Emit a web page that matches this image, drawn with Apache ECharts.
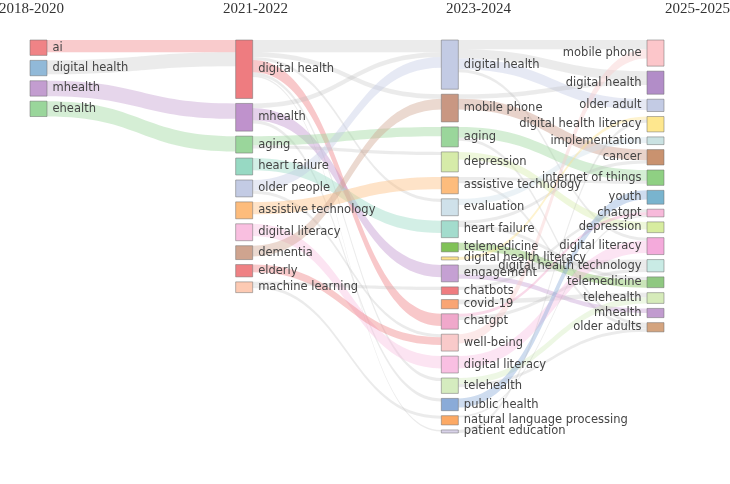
<!DOCTYPE html>
<html>
<head>
<meta charset="utf-8">
<script src="https://cdn.jsdelivr.net/npm/echarts@6/dist/echarts.min.js"></script>
<style>
  html, body { margin: 0; padding: 0; background: #fff; }
  #main { width: 730px; height: 484px; }
</style>
</head>
<body>
<div id="main"></div>
<script>
var periods = ['2018-2020', '2021-2022', '2023-2024', '2025-2025'];

// keywords per period, top to bottom
var names1 = ['ai', 'digital health', 'mhealth', 'ehealth'];
var sizes1 = [5, 5, 5, 5];

var names2 = ['digital health', 'mhealth', 'aging', 'heart failure', 'older people',
  'assistive technology', 'digital literacy', 'dementia', 'elderly', 'machine learning'];
var sizes2 = [19, 9, 5.5, 5.5, 5.5, 5.5, 5.5, 4.5, 4, 3.5];

var names3 = ['digital health', 'mobile phone', 'aging', 'depression', 'assistive technology',
  'evaluation', 'heart failure', 'telemedicine', 'digital health literacy', 'engagement',
  'chatbots', 'covid-19', 'chatgpt', 'well-being', 'digital literacy', 'telehealth',
  'public health', 'natural language processing', 'patient education'];
var sizes3 = [16, 9, 6.5, 6.5, 5.5, 5.5, 5.5, 3, 1, 5.5, 2.5, 3, 5, 5.5, 5.5, 5, 4, 3, 1];

var names4 = ['mobile phone', 'digital health', 'older adult', 'digital health literacy',
  'implementation', 'cancer', 'internet of things', 'youth', 'chatgpt', 'depression',
  'digital literacy', 'digital health technology', 'telemedicine', 'telehealth',
  'mhealth', 'older adults'];
var sizes4 = [8.5, 7.5, 4, 5, 2.5, 5, 5, 4.5, 2.5, 3.5, 5.5, 4, 3.5, 3.5, 3, 3];

// links between neighbouring periods: [source, target, value, tinted]
var flows12 = [
  ['ai', 'digital health', 4, true],
  ['digital health', 'digital health', 4.5, false],
  ['mhealth', 'mhealth', 5, true],
  ['ehealth', 'aging', 5, true]
];
var flows23 = [
  ['digital health', 'digital health', 4, false],
  ['digital health', 'chatgpt', 4, true],
  ['digital health', 'mobile phone', 1.5, false],
  ['digital health', 'evaluation', 1, false],
  ['digital health', 'telehealth', 1, false],
  ['digital health', 'patient education', 0.5, false],
  ['mhealth', 'engagement', 4, true],
  ['mhealth', 'digital health', 1.5, false],
  ['mhealth', 'public health', 1, false],
  ['aging', 'aging', 3, true],
  ['aging', 'depression', 1, false],
  ['heart failure', 'heart failure', 4, true],
  ['older people', 'digital health', 3.5, true],
  ['older people', 'well-being', 1, false],
  ['assistive technology', 'assistive technology', 4, true],
  ['digital literacy', 'digital literacy', 4, true],
  ['dementia', 'mobile phone', 3.5, true],
  ['elderly', 'well-being', 2.5, true],
  ['machine learning', 'natural language processing', 1, false],
  ['machine learning', 'chatbots', 1, false]
];
var flows34 = [
  ['digital health', 'mobile phone', 3, false],
  ['digital health', 'digital health', 3, false],
  ['digital health', 'older adult', 3.5, true],
  ['digital health', 'digital literacy', 1, false],
  ['mobile phone', 'cancer', 3.5, true],
  ['mobile phone', 'digital health', 1.5, false],
  ['aging', 'internet of things', 3.5, true],
  ['aging', 'older adults', 1, false],
  ['depression', 'depression', 2.5, true],
  ['assistive technology', 'internet of things', 1, false],
  ['assistive technology', 'older adults', 1, false],
  ['evaluation', 'implementation', 2, true],
  ['heart failure', 'telemedicine', 1, false],
  ['heart failure', 'cancer', 1, false],
  ['telemedicine', 'telemedicine', 2.5, true],
  ['digital health literacy', 'digital health literacy', 1, true],
  ['engagement', 'digital health technology', 3, false],
  ['engagement', 'mhealth', 1.5, true],
  ['chatbots', 'chatgpt', 1, false],
  ['covid-19', 'telehealth', 1.5, false],
  ['chatgpt', 'chatgpt', 1, true],
  ['chatgpt', 'digital health technology', 1, false],
  ['well-being', 'mobile phone', 3, true],
  ['digital literacy', 'digital literacy', 4, true],
  ['telehealth', 'telehealth', 2, true],
  ['telehealth', 'older adults', 1, false],
  ['public health', 'youth', 3, true],
  ['natural language processing', 'chatgpt', 0.5, false],
  ['patient education', 'digital health literacy', 1, false]
];

var colors1 = ['#f08386', '#91b9d8', '#c39dd0', '#9ad69b'];
var colors2 = ['#ee7c80', '#bf92cc', '#9ad69b', '#97d9c3', '#c3cbe4', '#fdbc7c', '#f9bfe0',
  '#cfa48f', '#ef8184', '#fdcab3'];
var colors3 = ['#c3cbe4', '#c99782', '#9ad69b', '#d6eba9', '#fdbc7c', '#cfe1ea', '#a3dccd',
  '#80c257', '#fde28c', '#c5a0d3', '#ef7c80', '#f9a574', '#f0a8cb', '#f9caca', '#f9bfe2',
  '#d5ecbf', '#8aabd8', '#fca964', '#d8d2e8'];
var colors4 = ['#fcc6ca', '#b28dc8', '#c3cbe4', '#fee78e', '#cae2e2', '#c9926f', '#8fd083',
  '#79b4ce', '#f7b9da', '#d7ec9f', '#f4aadb', '#c9ebe5', '#8fc881', '#d6ebba', '#c19bcf',
  '#d4a47f'];

var myChart = echarts.init(document.getElementById('main'));

// 节点: 名字后加 |列号 保证唯一
var nodeData = [];
var columns = [[names1, sizes1, colors1], [names2, sizes2, colors2],
  [names3, sizes3, colors3], [names4, sizes4, colors4]];
columns.forEach(function (col, depth) {
  col[0].forEach(function (name, i) {
    nodeData.push({
      name: name + '|' + (depth + 1),
      value: col[1][i],
      depth: depth,
      itemStyle: { color: col[2][i] },
      label: depth === 3 ? { position: 'left' } : { position: 'right' }
    });
  });
});

var linkData = [];
[flows12, flows23, flows34].forEach(function (flows, k) {
  flows.forEach(function (f) {
    linkData.push({
      source: f[0] + '|' + (k + 1),
      target: f[1] + '|' + (k + 2),
      value: f[2],
      lineStyle: f[3] ? { color: 'source', opacity: 0.42 } : { color: '#b8b8b8', opacity: 0.28 }
    });
  });
});

var titleStyle = { fontFamily: 'Liberation Serif', fontSize: 15, fontWeight: 'normal', color: '#333' };

var option = {
  backgroundColor: '#fff',
  animation: false,
  title: [
    { text: periods[0], left: -1, top: 2, padding: 0, textStyle: titleStyle },
    { text: periods[1], left: 223, top: 2, padding: 0, textStyle: titleStyle },
    { text: periods[2], left: 446, top: 2, padding: 0, textStyle: titleStyle },
    { text: periods[3], right: 0, top: 2, padding: 0, textStyle: titleStyle }
  ],
  series: [{
    type: 'sankey',
    left: 30,
    right: 66,
    top: 40,
    bottom: 51,
    nodeWidth: 17,
    nodeGap: 5,
    layoutIterations: 0,
    draggable: false,
    emphasis: { disabled: true },
    data: nodeData,
    links: linkData,
    itemStyle: { borderColor: 'rgba(110,110,110,0.5)', borderWidth: 1 },
    lineStyle: { curveness: 0.5 },
    label: {
      fontFamily: 'DejaVu Sans',
      fontSize: 11.5,
      color: '#444',
      distance: 5,
      formatter: function (p) { return p.name.split('|')[0]; }
    }
  }]
};
myChart.setOption(option);
</script>
</body>
</html>
